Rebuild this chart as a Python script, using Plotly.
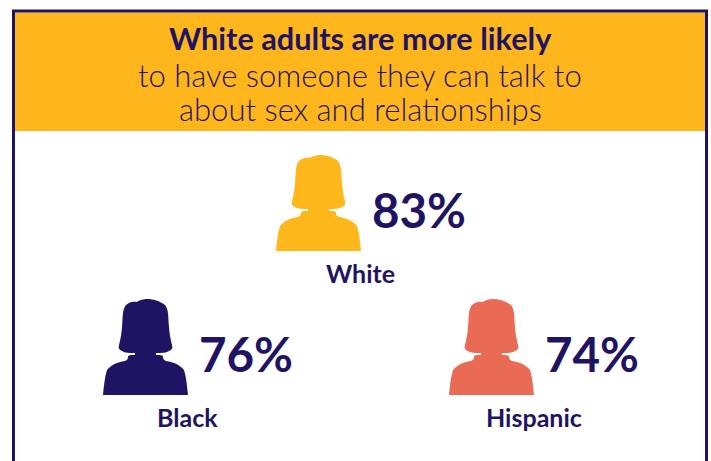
import plotly.graph_objects as go

# Chart content
groups = ["White", "Black", "Hispanic"]
shares = [83, 76, 74]
colors = ["#FFB81C", "#1F1464", "#E96B54"]
headline_bold = "White adults are more likely"
headline_rest = ["to have someone they can talk to", "about sex and relationships"]

NAVY = "#1F1464"
AMBER = "#FFB61D"
FONT = "Lato"

# Top-left corner of each figure's silhouette, in page pixels
anchors = [(276, 155), (103, 299), (449, 299)]

# Head-and-shoulders outline, relative to the icon's top-left corner
ICON = (
    "M 44 0 C 41 0 36 1 34 3 C 30 2 26 3 23 6 C 19 11 20 18 19 28 "
    "C 18.5 36 17 42 16 46 C 15 49 16 51 19 52 C 22 54 26 54 32 54 "
    "L 32 56 C 28 56 25 56 25 58 C 25 60 24 61 22 62 C 14 63 8 66 4 71 "
    "C 2 77 1 86 0 96 L 85 96 C 84 86 83 77 81 71 C 77 66 71 63 63 62 "
    "C 61 61 60 60 60 58 C 60 56 57 56 53 56 L 53 54 C 59 54 63 54 66 52 "
    "C 69 51 70 49 69 46 C 68 42 66.5 36 66 28 C 65 18 66 11 62 6 "
    "C 57 2 50 0 44 0 Z"
)


def place_icon(path, dx, dy):
    """Shift an SVG path's absolute coordinates to (dx, dy)."""
    out, is_x = [], True
    for tok in path.split():
        if tok in "MCLZ":
            out.append(tok)
            is_x = True
        else:
            out.append(f"{float(tok) + (dx if is_x else dy):g}")
            is_x = not is_x
    return " ".join(out)


shapes = [
    # Frame around the graphic, open at the bottom
    dict(type="rect", x0=12, x1=708, y0=10, y1=470, fillcolor="white",
         line=dict(width=0), layer="below"),
    dict(type="path", path="M 13.5 470 L 13.5 11 L 706.5 11 L 706.5 470",
         line=dict(color=NAVY, width=3), layer="above"),
    # Headline band
    dict(type="rect", x0=15, x1=705, y0=12.5, y1=131, fillcolor=AMBER,
         line=dict(width=0), layer="below"),
]
for (ax, ay), color in zip(anchors, colors):
    shapes.append(dict(type="path", path=place_icon(ICON, ax, ay),
                       fillcolor=color, line=dict(width=0), layer="below"))

# Fixed box heights keep the tightly leaded headline lines from crowding each other
annotations = [
    dict(x=360, y=38, text=f"<b>{headline_bold}</b>", height=34,
         font=dict(family=FONT, size=30.7, color=NAVY)),
]
for y, line in zip([74, 108], headline_rest):
    annotations.append(dict(x=360, y=y, text=line, height=33,
                            font=dict(family=FONT, size=31, weight=300, color=NAVY)))

for (ax, ay), name, share in zip(anchors, groups, shares):
    annotations.append(dict(x=ax + 143.3, y=ay + 54.5, text=f"<b>{share}%</b>",
                            font=dict(family=FONT, size=47.5, color=NAVY)))
    annotations.append(dict(x=ax + 84.5, y=ay + 118, text=f"<b>{name}</b>",
                            font=dict(family=FONT, size=25, color=NAVY)))
for a in annotations:
    a.update(xref="x", yref="y", showarrow=False, xanchor="center", yanchor="middle")

fig = go.Figure()
fig.update_layout(
    width=711, height=461, margin=dict(l=0, r=0, t=0, b=0),
    paper_bgcolor="white", plot_bgcolor="white", showlegend=False,
    xaxis=dict(range=[0, 711], visible=False, fixedrange=True),
    yaxis=dict(range=[461, 0], visible=False, fixedrange=True),
    shapes=shapes, annotations=annotations,
)
fig.write_html("out.html", config=dict(displayModeBar=False))
